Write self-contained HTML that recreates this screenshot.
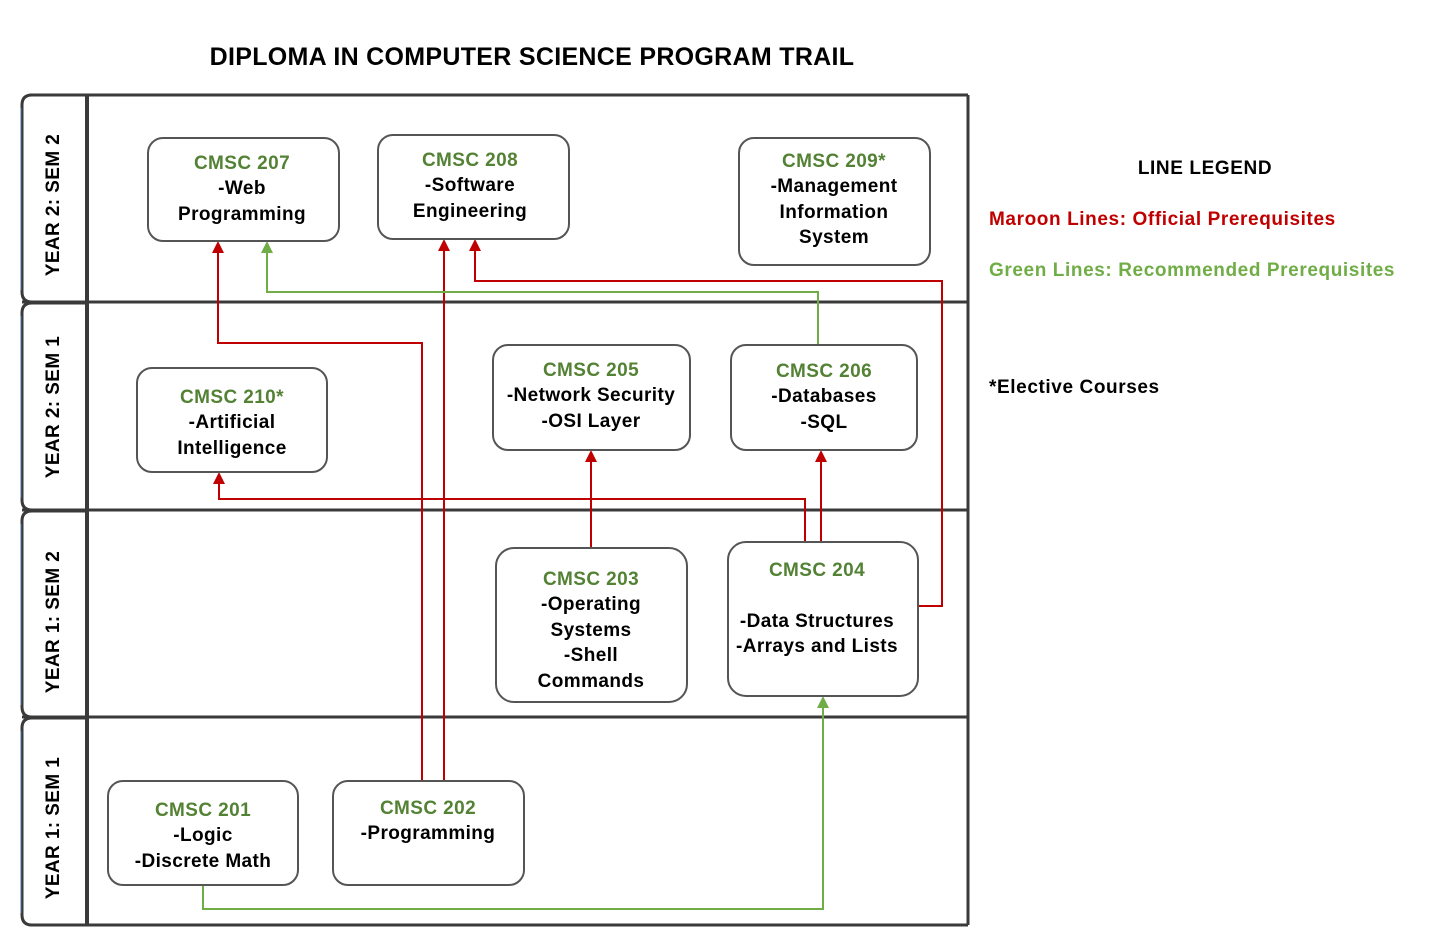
<!DOCTYPE html>
<html><head><meta charset="utf-8"><style>
html,body{margin:0;padding:0;background:#fff;}
svg text{font-family:"Liberation Sans",Arial,sans-serif;font-weight:bold;}
</style></head><body>
<svg width="1451" height="947" viewBox="0 0 1451 947" xmlns="http://www.w3.org/2000/svg">
<text x="532" y="65" font-size="25" text-anchor="middle" fill="#000" letter-spacing="0.3">DIPLOMA IN COMPUTER SCIENCE PROGRAM TRAIL</text>

<!-- lanes -->
<g fill="none" stroke="#3a3a3a" stroke-width="3">
<line x1="30" y1="95" x2="968" y2="95"/>
<line x1="968" y1="95" x2="968" y2="925"/>
<line x1="30" y1="925" x2="968" y2="925"/>
<line x1="22" y1="302" x2="968" y2="302"/>
<line x1="22" y1="510" x2="968" y2="510"/>
<line x1="22" y1="717" x2="968" y2="717"/>
<path d="M87,95 H32 Q22,95 22,105 V292 Q22,302 32,302 H87"/>
<path d="M87,303 H32 Q22,303 22,313 V500 Q22,510 32,510 H87"/>
<path d="M87,511 H32 Q22,511 22,521 V707 Q22,717 32,717 H87"/>
<path d="M87,718 H32 Q22,718 22,728 V915 Q22,925 32,925 H87"/>
<line x1="87" y1="95" x2="87" y2="925" stroke-width="4"/>
</g>
<g fill="none" stroke="#4a6fa5" stroke-width="1">
<line x1="21" y1="108" x2="21" y2="290"/>
<line x1="21" y1="316" x2="21" y2="498"/>
<line x1="21" y1="524" x2="21" y2="705"/>
<line x1="21" y1="731" x2="21" y2="913"/>
</g>
<g fill="#000" font-size="19" text-anchor="middle" letter-spacing="0.4">
<text transform="translate(59,205) rotate(-90)">YEAR 2: SEM 2</text>
<text transform="translate(59,407) rotate(-90)">YEAR 2: SEM 1</text>
<text transform="translate(59,622) rotate(-90)">YEAR 1: SEM 2</text>
<text transform="translate(59,828) rotate(-90)">YEAR 1: SEM 1</text>
</g>

<!-- connectors -->
<g fill="none" stroke-width="2">
<polyline stroke="#c00000" points="422,781 422,343 218,343 218,250"/>
<polyline stroke="#c00000" points="444,781 444,248"/>
<polyline stroke="#c00000" points="918,606 942,606 942,281 475,281 475,248"/>
<polyline stroke="#c00000" points="805,542 805,499 219,499 219,481"/>
<polyline stroke="#c00000" points="821,542 821,459"/>
<polyline stroke="#c00000" points="591,548 591,459"/>
<polyline stroke="#70ad47" points="818,345 818,292 267,292 267,250"/>
<polyline stroke="#70ad47" points="203,885 203,909 823,909 823,705"/>
</g>
<g>
<path d="M212,253 L218,241 L224,253 Z" fill="#c00000"/>
<path d="M438,251 L444,239 L450,251 Z" fill="#c00000"/>
<path d="M469,251 L475,239 L481,251 Z" fill="#c00000"/>
<path d="M213,484 L219,472 L225,484 Z" fill="#c00000"/>
<path d="M815,462 L821,450 L827,462 Z" fill="#c00000"/>
<path d="M585,462 L591,450 L597,462 Z" fill="#c00000"/>
<path d="M261,253 L267,241 L273,253 Z" fill="#70ad47"/>
<path d="M817,708 L823,696 L829,708 Z" fill="#70ad47"/>
</g>

<!-- nodes -->
<g fill="#fff" stroke="#555" stroke-width="2">
<rect x="148" y="138" width="191" height="103" rx="15"/>
<rect x="378" y="135" width="191" height="104" rx="15"/>
<rect x="739" y="138" width="191" height="127" rx="15"/>
<rect x="137" y="368" width="190" height="104" rx="15"/>
<rect x="493" y="345" width="197" height="105" rx="15"/>
<rect x="731" y="345" width="186" height="105" rx="15"/>
<rect x="496" y="548" width="191" height="154" rx="18"/>
<rect x="728" y="542" width="190" height="154" rx="18"/>
<rect x="108" y="781" width="190" height="104" rx="15"/>
<rect x="333" y="781" width="191" height="104" rx="15"/>
</g>
<g font-size="19" text-anchor="middle" letter-spacing="0.4">
<g fill="#548235">
<text x="242" y="169">CMSC 207</text>
<text x="470" y="166">CMSC 208</text>
<text x="834" y="167">CMSC 209*</text>
<text x="232" y="403">CMSC 210*</text>
<text x="591" y="376">CMSC 205</text>
<text x="824" y="377">CMSC 206</text>
<text x="591" y="585">CMSC 203</text>
<text x="817" y="576">CMSC 204</text>
<text x="203" y="816">CMSC 201</text>
<text x="428" y="814">CMSC 202</text>
</g>
<g fill="#000">
<text x="242" y="194">-Web</text>
<text x="242" y="220">Programming</text>
<text x="470" y="191">-Software</text>
<text x="470" y="217">Engineering</text>
<text x="834" y="192">-Management</text>
<text x="834" y="218">Information</text>
<text x="834" y="243">System</text>
<text x="232" y="428">-Artificial</text>
<text x="232" y="454">Intelligence</text>
<text x="591" y="401">-Network Security</text>
<text x="591" y="427">-OSI Layer</text>
<text x="824" y="402">-Databases</text>
<text x="824" y="428">-SQL</text>
<text x="591" y="610">-Operating</text>
<text x="591" y="636">Systems</text>
<text x="591" y="661">-Shell</text>
<text x="591" y="687">Commands</text>
<text x="817" y="627">-Data Structures</text>
<text x="817" y="652">-Arrays and Lists</text>
<text x="203" y="841">-Logic</text>
<text x="203" y="867">-Discrete Math</text>
<text x="428" y="839">-Programming</text>
</g>
</g>

<!-- legend -->
<g font-size="19" letter-spacing="0.6">
<text x="1205" y="174" text-anchor="middle" fill="#000">LINE LEGEND</text>
<text x="989" y="225" fill="#c00000">Maroon Lines: Official Prerequisites</text>
<text x="989" y="276" fill="#70ad47">Green Lines: Recommended Prerequisites</text>
<text x="989" y="393" fill="#000">*Elective Courses</text>
</g>
</svg>
</body></html>
